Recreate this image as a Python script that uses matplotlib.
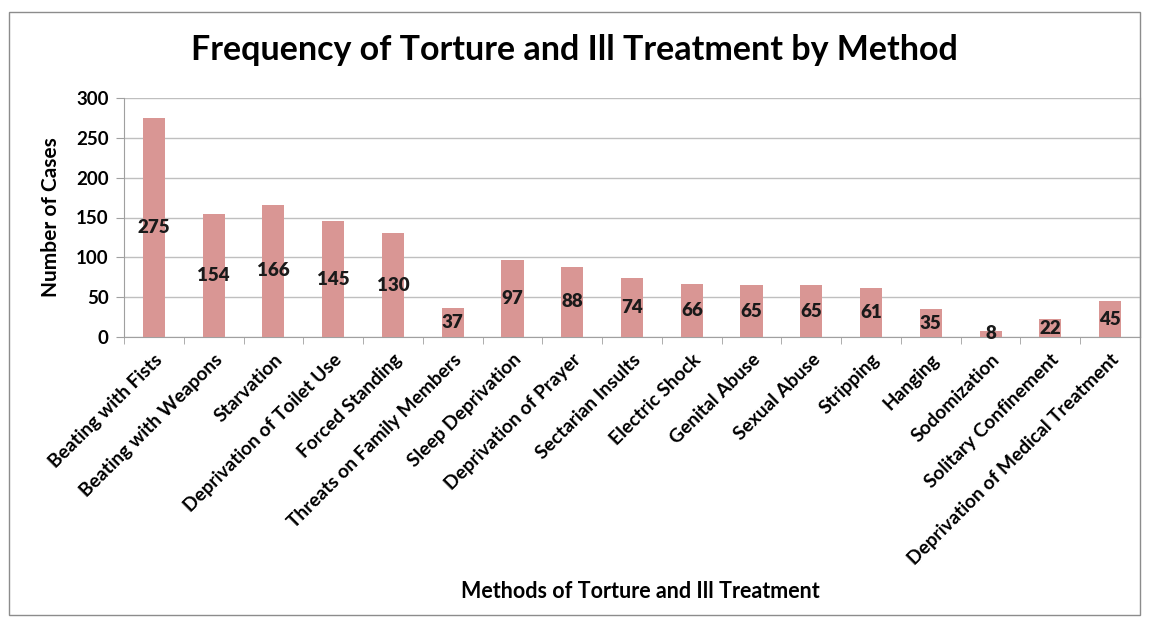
import numpy as np
import matplotlib.pyplot as plt

methods = ['Beating with Fists', 'Beating with Weapons', 'Starvation',
           'Deprivation of Toilet Use', 'Forced Standing',
           'Threats on Family Members', 'Sleep Deprivation',
           'Deprivation of Prayer', 'Sectarian Insults', 'Electric Shock',
           'Genital Abuse', 'Sexual Abuse', 'Stripping', 'Hanging',
           'Sodomization', 'Solitary Confinement',
           'Deprivation of Medical Treatment']
cases = [275, 154, 166, 145, 130, 37, 97, 88, 74, 66, 65, 65, 61, 35, 8, 22, 45]
yticks = [0, 50, 100, 150, 200, 250, 300]

plt.rcParams['font.family'] = ['Lato', 'DejaVu Sans']
plt.rcParams['font.weight'] = 'bold'

fig = plt.figure(figsize=(11.49, 6.25), dpi=100)
W, H = 1149, 625
ax = fig.add_axes([124 / W, 1 - 337 / H, (1140 - 124) / W, (337 - 98) / H])

# outer chart border
fig.patches.append(plt.Rectangle((9 / W, 10 / H), (1140 - 9) / W, (613 - 10) / H,
                                 transform=fig.transFigure, fill=False,
                                 edgecolor='#8c8c8c', linewidth=1))

x = np.arange(len(methods))
ax.bar(x, cases, width=0.37, color='#D99694', zorder=3)
for xi, v in zip(x, cases):
    ax.text(xi, v / 2, str(v), ha='center', va='center', fontsize=13.5,
            fontweight='heavy', color='#1a1a1a', zorder=4)

ax.set_xlim(-0.5, len(methods) - 0.5)
ax.set_ylim(0, 300)
ax.set_yticks(yticks)
ax.tick_params(axis='y', labelsize=13.5, length=6, color='#a0a0a0', pad=5)
ax.yaxis.grid(True, color='#bfbfbf', linewidth=1, zorder=0)

ax.set_xticks(x)
ax.set_xticklabels(methods, rotation=45, ha='right', va='top',
                   rotation_mode='anchor', fontsize=13.8)
ax.tick_params(axis='x', length=0, pad=10)
ax.set_xticks(np.arange(len(methods) + 1) - 0.5, minor=True)
ax.tick_params(axis='x', which='minor', length=5, color='#a0a0a0')

for side in ['top', 'right']:
    ax.spines[side].set_visible(False)
ax.spines['left'].set_color('#a0a0a0')
ax.spines['bottom'].set_color('#a0a0a0')

# plot area right edge (light)
ax.plot([1, 1], [0, 1], transform=ax.transAxes, color='#d0d0d0', lw=1, clip_on=False)

ax.set_ylabel('Number of Cases', fontsize=15, fontweight='bold')
ax.yaxis.set_label_coords(-0.062, 0.5)
fig.text(640 / W, 1 - 591 / H, 'Methods of Torture and Ill Treatment',
         ha='center', va='center', fontsize=15.5, fontweight='bold')
fig.text(574 / W, 1 - 50 / H, 'Frequency of Torture and Ill Treatment by Method',
         ha='center', va='center', fontsize=24.5, fontweight='bold')

fig.savefig('out.png', dpi=100)
